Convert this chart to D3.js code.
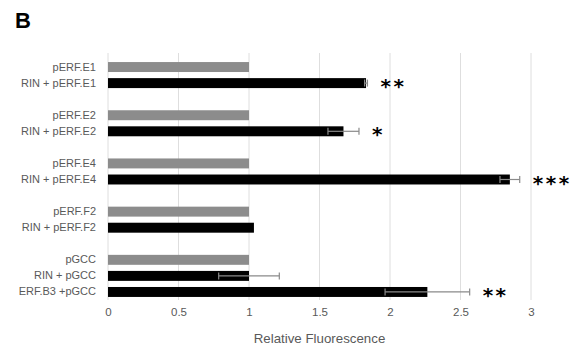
<!DOCTYPE html>
<html>
<head>
<meta charset="utf-8">
<script src="https://cdn.jsdelivr.net/npm/d3@7"></script>
<style>
  html, body { margin: 0; padding: 0; background: #fff; }
  svg { display: block; }
</style>
</head>
<body>
<svg id="chart" width="578" height="348"></svg>
<script>
// Constructs, top to bottom; empty strings are spacer rows between groups
const labels = [
  "pERF.E1", "RIN + pERF.E1", "",
  "pERF.E2", "RIN + pERF.E2", "",
  "pERF.E4", "RIN + pERF.E4", "",
  "pERF.F2", "RIN + pERF.F2", "",
  "pGCC", "RIN + pGCC", "ERF.B3 +pGCC"
];
// "ctrl" = reporter alone (grey), "trt" = with effector (black)
const series = [
  "ctrl", "trt", null,
  "ctrl", "trt", null,
  "ctrl", "trt", null,
  "ctrl", "trt", null,
  "ctrl", "trt", "trt"
];
// Relative fluorescence (mean) and error (±)
const values = [
  1, 1.83, null,
  1, 1.67, null,
  1, 2.85, null,
  1, 1.035, null,
  1, 1.0, 2.265
];
const errors = [
  0, 0.01, null,
  0, 0.11, null,
  0, 0.07, null,
  0, 0, null,
  0, 0.215, 0.30
];
const significance = [
  "", "**", "",
  "", "*", "",
  "", "***", "",
  "", "", "",
  "", "", "**"
];
const xTicks = [0, 0.5, 1, 1.5, 2, 2.5, 3];
const xTitle = "Relative Fluorescence";
const panelLabel = "B";

const svg = d3.select("#chart");
const colors = { ctrl: "#8c8c8c", trt: "#000000" };
const textGrey = "#595959";

const x = d3.scaleLinear().domain([0, 3]).range([108, 531]);
const y = d3.scaleBand()
  .domain(d3.range(labels.length))
  .range([59, 300])
  .paddingInner(0.38)
  .paddingOuter(0.19);

const plotTop = 53, plotBottom = 300;

// panel letter
svg.append("text")
  .attr("x", 15).attr("y", 27.5)
  .attr("font-family", "Liberation Sans, Arial, sans-serif")
  .attr("font-weight", "bold")
  .attr("font-size", 22)
  .attr("fill", "#000")
  .text(panelLabel);

// vertical gridlines
svg.append("g")
  .selectAll("line")
  .data(xTicks)
  .join("line")
  .attr("x1", d => x(d)).attr("x2", d => x(d))
  .attr("y1", plotTop).attr("y2", plotBottom)
  .attr("stroke", "#dedede")
  .attr("stroke-width", 1);

// x axis labels
const xAxis = d3.axisBottom(x).tickValues(xTicks).tickSize(0).tickPadding(0)
  .tickFormat(d3.format("~g"));
const gx = svg.append("g")
  .attr("transform", `translate(0,${plotBottom + 8})`)
  .call(xAxis);
gx.select(".domain").remove();
gx.selectAll("text")
  .attr("fill", textGrey)
  .attr("font-family", "Liberation Sans, Arial, sans-serif")
  .attr("font-size", 11.5)
  .attr("dy", "0.71em");

// x axis title
svg.append("text")
  .attr("x", (x(0) + x(3)) / 2)
  .attr("y", 343)
  .attr("text-anchor", "middle")
  .attr("fill", textGrey)
  .attr("font-family", "Liberation Sans, Arial, sans-serif")
  .attr("font-size", 13.3)
  .text(xTitle);

// category labels
const yAxis = d3.axisLeft(y).tickSize(0).tickPadding(0).tickFormat(i => labels[i]);
const gy = svg.append("g")
  .attr("transform", `translate(96,0)`)
  .call(yAxis);
gy.select(".domain").remove();
gy.selectAll("text")
  .attr("fill", textGrey)
  .attr("font-family", "Liberation Sans, Arial, sans-serif")
  .attr("font-size", 11);

const rows = d3.range(labels.length).filter(i => values[i] !== null);

// bars
svg.append("g")
  .selectAll("rect")
  .data(rows)
  .join("rect")
  .attr("x", x(0))
  .attr("y", i => y(i))
  .attr("width", i => x(values[i]) - x(0))
  .attr("height", y.bandwidth())
  .attr("fill", i => colors[series[i]]);

// error bars
const withErr = rows.filter(i => errors[i] > 0);
const eg = svg.append("g")
  .attr("stroke", "#8a8a8a")
  .attr("stroke-width", 1.2)
  .attr("fill", "none");
eg.selectAll("line.span")
  .data(withErr)
  .join("line")
  .attr("class", "span")
  .attr("x1", i => x(values[i] - errors[i]))
  .attr("x2", i => x(values[i] + errors[i]))
  .attr("y1", i => y(i) + y.bandwidth() / 2)
  .attr("y2", i => y(i) + y.bandwidth() / 2);
[-1, 1].forEach(s => {
  eg.selectAll(`line.cap${s}`)
    .data(withErr)
    .join("line")
    .attr("class", `cap${s}`)
    .attr("x1", i => x(values[i] + s * errors[i]))
    .attr("x2", i => x(values[i] + s * errors[i]))
    .attr("y1", i => y(i) + y.bandwidth() / 2 - 3.5)
    .attr("y2", i => y(i) + y.bandwidth() / 2 + 3.5);
});

// significance marks
svg.append("g")
  .selectAll("text")
  .data(rows.filter(i => significance[i]))
  .join("text")
  .attr("x", i => x(values[i] + errors[i]) + 13)
  .attr("y", i => y(i) + y.bandwidth() / 2 + 10)
  .attr("font-family", "DejaVu Sans, sans-serif")
  .attr("font-weight", "bold")
  .attr("font-size", 20)
  .attr("letter-spacing", 2.5)
  .attr("fill", "#000")
  .text(i => significance[i]);
</script>
</body>
</html>
